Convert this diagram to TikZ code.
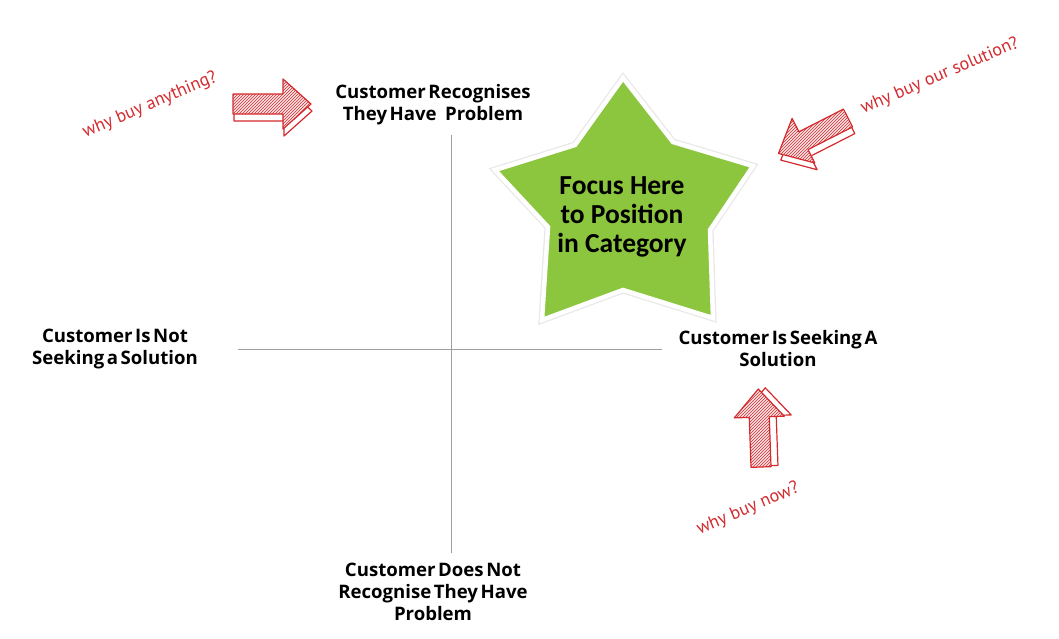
\documentclass[tikz,border=0pt]{standalone}
\usepackage{fontspec}
\setmainfont{Open Sans}
\newfontfamily\starfont{Carlito}
\newfontfamily\handfont{PT Sans}
\usetikzlibrary{patterns}
\definecolor{handred}{HTML}{D42A2E}
\definecolor{stargreen}{HTML}{8CC63F}
\newcommand\tightwords{\spaceskip=0.14em plus 0.05em\relax}
\tikzset{
  lbl/.style={font=\bfseries\fontsize{18.6}{22}\selectfont, align=center, text=black, inner sep=0pt},
  axisline/.style={draw=gray!75, line width=0.8pt},
  hand/.style={font=\handfont\fontsize{18}{20}\selectfont, text=handred, inner sep=0pt},
  startext/.style={font=\starfont\bfseries\fontsize{27.5}{29}\selectfont, align=center, text=black, inner sep=0pt},
  arrowface/.style={fill=handred!12, draw=handred, line width=1.2pt, line join=round},
  arrowhatch/.style={pattern=north east lines, pattern color=handred},
  arrowside/.style={fill=white, draw=handred, line width=1.2pt, line join=round},
}
\newcommand\sketcharrow[4]{%
  \begin{scope}[shift={(#1,#2)}, rotate=#3]
    \path[arrowside] (1,-10+#4) -- (51,-10+#4) -- (51,-25+#4) -- (79,0+#4) -- (51,25+#4) -- (51,10+#4) -- (1,10+#4) -- cycle;
    \path[arrowface] (0,-10) -- (50,-10) -- (50,-25) -- (78,0) -- (50,25) -- (50,10) -- (0,10) -- cycle;
    \path[arrowhatch] (0,-10) -- (50,-10) -- (50,-25) -- (78,0) -- (50,25) -- (50,10) -- (0,10) -- cycle;
  \end{scope}}
\begin{document}
\begin{tikzpicture}[x=1pt,y=-1pt]
  \useasboundingbox (0,0) rectangle (1059,638);
  % axes
  \coordinate (vtop) at (451,135);
  \coordinate (vbot) at (451,553);
  \coordinate (hl) at (238,349);
  \coordinate (hr) at (662,349);
  \draw[axisline] (vtop) -- (vbot);
  \draw[axisline] (hl) -- (hr);
  % star
  \path[draw=gray!18, line width=7pt, line join=miter, fill=stargreen]
    (623,78) -- (673,142) -- (753,166) -- (710,230) -- (713,318) -- (623,290) -- (542,320) -- (548,227) -- (495,170) -- (575,145) -- cycle;
  \path[draw=white, line width=4.5pt, line join=miter, fill=stargreen]
    (623,78) -- (673,142) -- (753,166) -- (710,230) -- (713,318) -- (623,290) -- (542,320) -- (548,227) -- (495,170) -- (575,145) -- cycle;
  \node[startext] (focus) at (622,217) {Focus Here\\to Position\\in Category};
  % labels
  \node[lbl] (top) at (433,105) {\tightwords Customer Recognises\\\tightwords They Have\hspace{0.45em}Problem};
  \node[lbl] (left) at (115,349) {\tightwords Customer Is Not\\\tightwords Seeking a Solution};
  \node[lbl] (right) at (778,349) {\tightwords Customer Is Seeking A\\\tightwords Solution};
  \node[lbl] (bottom) at (433,592) {\tightwords Customer Does Not\\\tightwords Recognise They Have\\\tightwords Problem};
  % sketch arrows
  \sketcharrow{233}{104}{0}{7}
  \sketcharrow{848}{118}{207}{-7}
  \sketcharrow{761}{467}{92}{7}
  % handwritten notes
  \node[hand, rotate=23] (n1) at (150,105) {why buy anything?};
  \node[hand, rotate=23] (n2) at (940,76) {why buy our solution?};
  \node[hand, rotate=23] (n3) at (748,509) {why buy now?};
\end{tikzpicture}
\end{document}
